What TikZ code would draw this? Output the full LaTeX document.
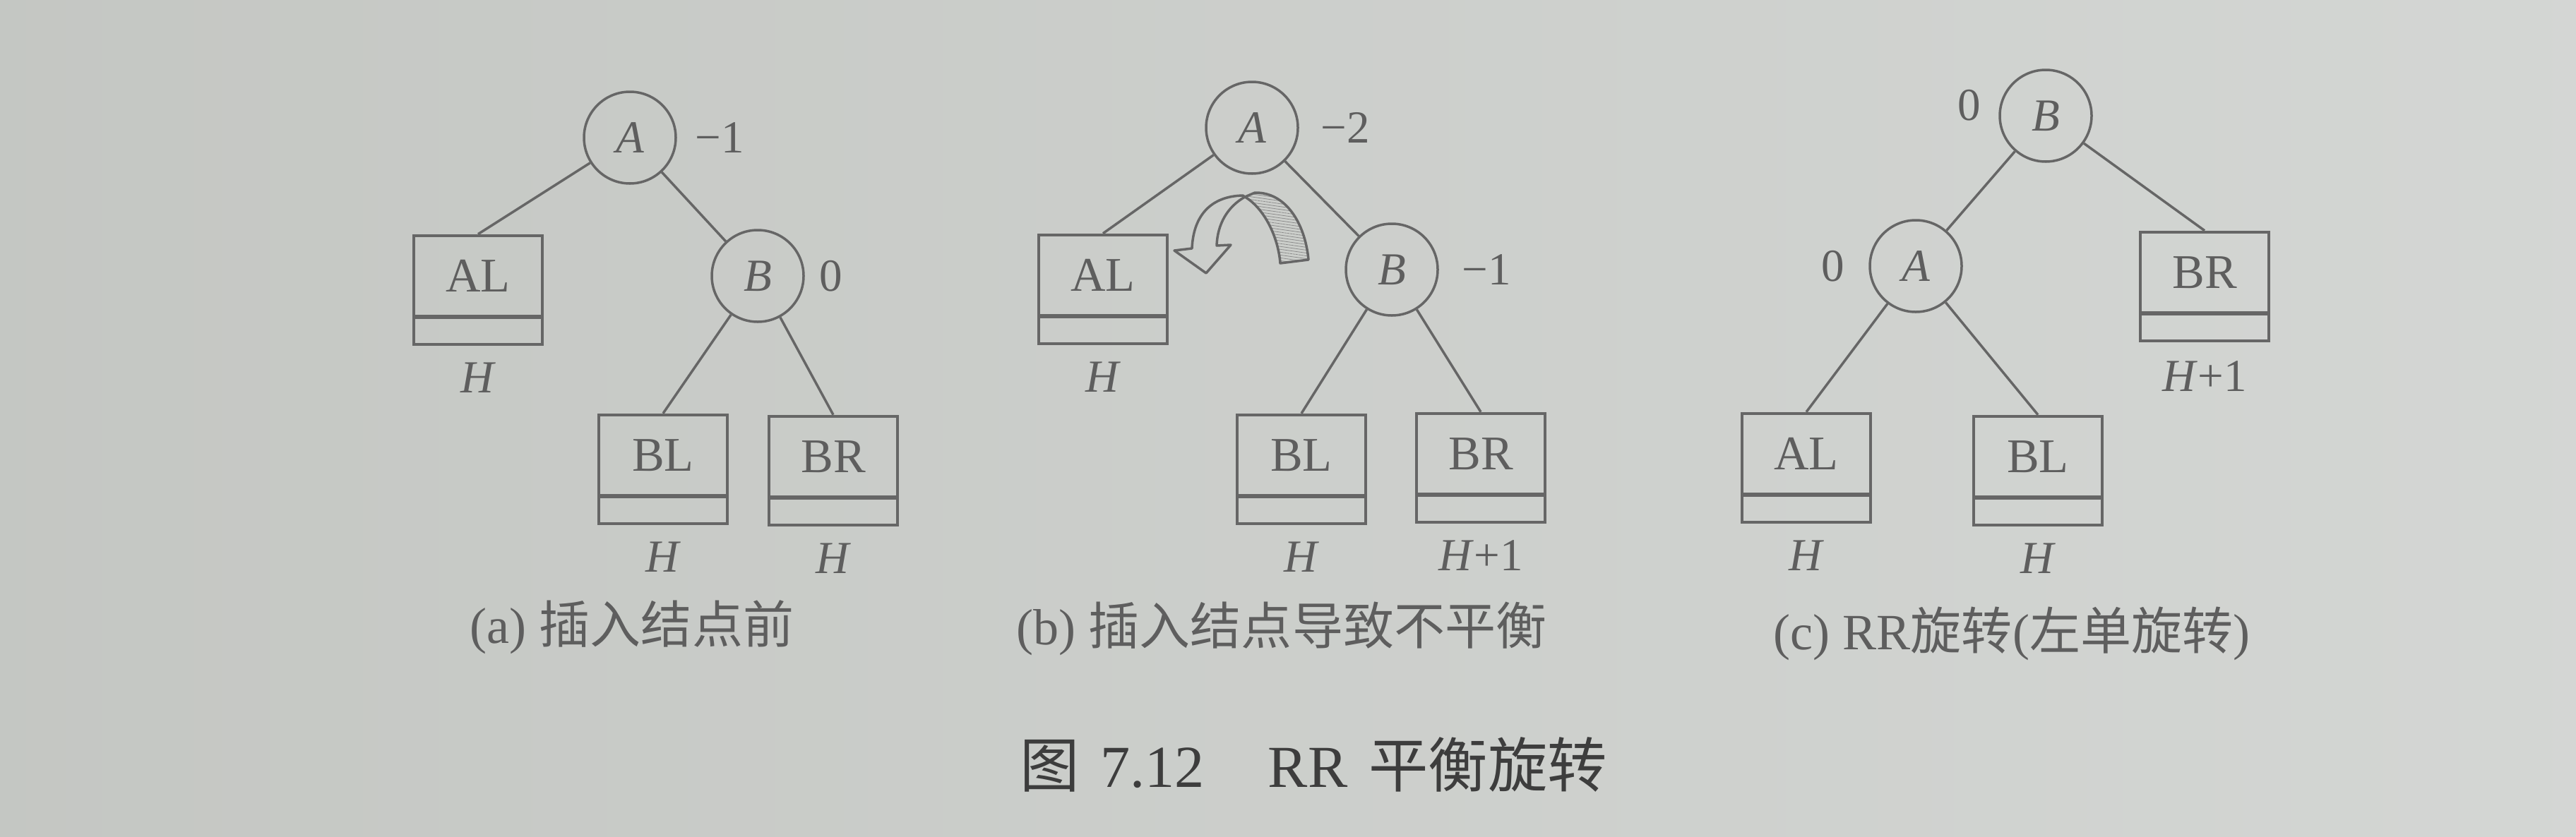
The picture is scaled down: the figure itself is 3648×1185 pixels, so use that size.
\documentclass[tikz,border=0pt]{standalone}
\usepackage{fontspec}
\usepackage{tikz}
\usetikzlibrary{positioning}
\usetikzlibrary{patterns.meta}
\setmainfont{Liberation Serif}
\newfontfamily\cjkfont{Noto Sans CJK SC}
\definecolor{mpaperl}{rgb}{0.77, 0.78, 0.765}
\definecolor{mpaperr}{rgb}{0.83, 0.84, 0.83}
\definecolor{mline}{rgb}{0.40, 0.40, 0.40}
\definecolor{mhatch}{rgb}{0.55, 0.55, 0.55}
\definecolor{mtext}{rgb}{0.37, 0.37, 0.37}
\definecolor{mtitle}{rgb}{0.24, 0.24, 0.24}
\tikzset{treenode/.style = {circle, draw=mline, line width=0.35mm, minimum size=13mm,
                            inner sep=0pt, text=mtext, font=\fontsize{18.5}{20}\selectfont\itshape},
         subtree/.style = {rectangle, draw=mline, line width=0.45mm, minimum width=18.2mm,
                           minimum height=15.4mm, inner sep=0pt, text=mtext,
                           text height=4.4mm, text depth=3.9mm, font=\fontsize{19.5}{22}\selectfont,
                           path picture={\draw [mline, line width=0.55mm]
                             ([yshift=3.9mm]path picture bounding box.south west) --
                             ([yshift=3.9mm]path picture bounding box.south east);}},
         factor/.style = {inner sep=0pt, text=mtext, font=\fontsize{18.5}{20}\selectfont},
         hlabel/.style = {inner sep=0pt, text=mtext, font=\fontsize{18.5}{20}\selectfont},
         branch/.style = {mline, line width=0.35mm},
         subcap/.style = {inner sep=0pt, text=mtext, font=\fontsize{20.5}{24}\selectfont}}

\begin{document}
\begin{tikzpicture}[x=0.1mm, y=-0.1mm]
    \useasboundingbox (0, 0) rectangle (3648, 1185);
    \shade [left color=mpaperl, right color=mpaperr] (0, 0) rectangle (3648, 1185);

    % (a)
    \node [treenode] (aA) at (892, 195) {A};
    \node [treenode] (aB) at (1073, 391) {B};
    \node [subtree] (aAL) at (677, 411) {AL};
    \node [subtree] (aBL) at (939, 665) {BL};
    \node [subtree] (aBR) at (1180, 667) {BR};
    \node [factor, right=2.5mm of aA] (aAf) {−1};
    \node [factor, right=2mm of aB] (aBf) {0};
    \node [hlabel, below=2.3mm of aAL] (aALh) {\textit{H}};
    \node [hlabel, below=2.3mm of aBL] (aBLh) {\textit{H}};
    \node [hlabel, below=2.3mm of aBR] (aBRh) {\textit{H}};
    \draw [branch] (aA) -- (aAL.north);
    \draw [branch] (aA) -- (aB);
    \draw [branch] (aB) -- (aBL.north);
    \draw [branch] (aB) -- (aBR.north);

    % (b)
    \node [treenode] (bA) at (1773, 181) {A};
    \node [treenode] (bB) at (1971, 382) {B};
    \node [subtree] (bAL) at (1562, 410) {AL};
    \node [subtree] (bBL) at (1843, 665) {BL};
    \node [subtree] (bBR) at (2097, 663) {BR};
    \node [factor, right=3mm of bA] (bAf) {−2};
    \node [factor, right=3.2mm of bB] (bBf) {−1};
    \node [hlabel, below=2.3mm of bAL] (bALh) {\textit{H}};
    \node [hlabel, below=2.3mm of bBL] (bBLh) {\textit{H}};
    \node [hlabel, below=2.3mm of bBR] (bBRh) {\textit{H}+1};
    \draw [branch] (bA) -- (bAL.north);
    \draw [branch] (bA) -- (bB);
    \draw [branch] (bB) -- (bBL.north);
    \draw [branch] (bB) -- (bBR.north);
    \draw [branch, line join=round] (1760, 277) .. controls (1715, 278) and (1690, 305) .. (1688, 352)
        -- (1663, 355) -- (1708, 387) -- (1743, 347) -- (1723, 348)
        .. controls (1724, 318) and (1738, 293) .. (1763, 279) -- cycle;
    \draw [branch, line join=round, pattern={Lines[angle=-8, distance=0.4mm, line width=0.08mm]},
        pattern color=mhatch] (1763, 279) .. controls (1790, 295) and (1810, 335) .. (1813, 373)
        -- (1853, 368) .. controls (1848, 315) and (1820, 272) .. (1777, 273) -- cycle;

    % (c)
    \node [treenode] (cB) at (2897, 164) {B};
    \node [treenode] (cA) at (2713, 377) {A};
    \node [subtree] (cBR) at (3122, 406) {BR};
    \node [subtree] (cAL) at (2558, 663) {AL};
    \node [subtree] (cBL) at (2886, 667) {BL};
    \node [factor, left=2.5mm of cB, yshift=1.5mm] (cBf) {0};
    \node [factor, left=3.4mm of cA] (cAf) {0};
    \node [hlabel, below=2.6mm of cBR] (cBRh) {\textit{H}+1};
    \node [hlabel, below=2.3mm of cAL] (cALh) {\textit{H}};
    \node [hlabel, below=2.3mm of cBL] (cBLh) {\textit{H}};
    \draw [branch] (cB) -- (cA);
    \draw [branch] (cB) -- (cBR.north);
    \draw [branch] (cA) -- (cAL.north);
    \draw [branch] (cA) -- (cBL.north);

    \node [subcap] (capa) at (895, 889) {(a) {\cjkfont 插入结点前}};
    \node [subcap] (capb) at (1815, 891) {(b) {\cjkfont 插入结点导致不平衡}};
    \node [subcap] (capc) at (2849, 898) {(c) RR{\cjkfont 旋转}({\cjkfont 左单旋转})};
    \node [subcap, text=mtitle, font=\fontsize{24}{28}\selectfont] (title) at (1860, 1083)
        {{\cjkfont 图}\hspace{3mm}7.12\hspace{9mm}RR\hspace{3mm}{\cjkfont 平衡旋转}};
\end{tikzpicture}
\end{document}
